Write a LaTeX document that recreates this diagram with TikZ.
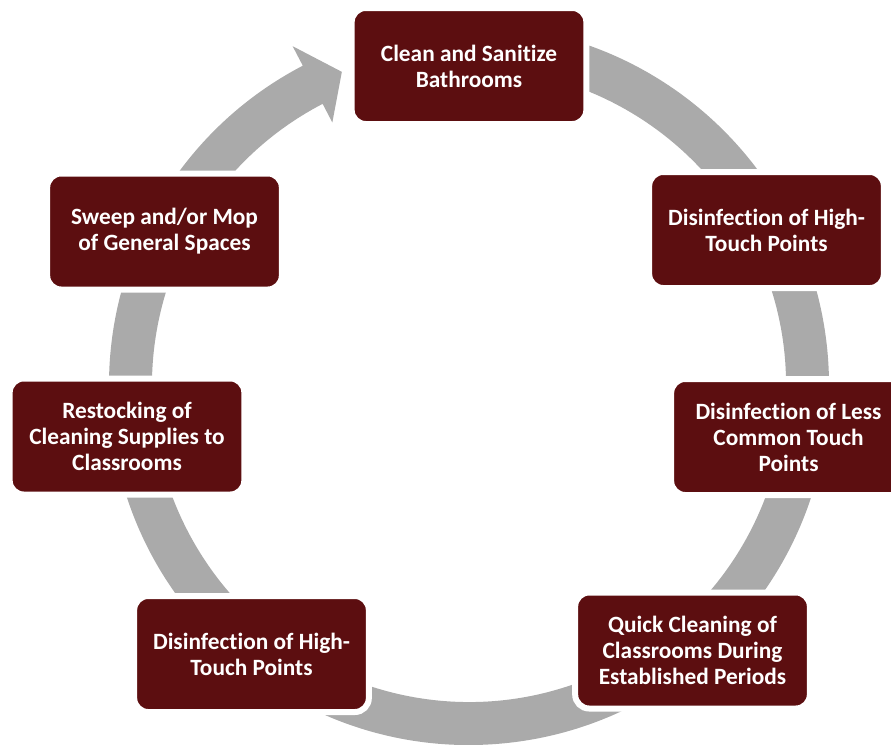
\documentclass[tikz,border=0pt]{standalone}
\usepackage{fontspec}
\setmainfont{Carlito}[Ligatures=CommonOff]
\usepackage{tikz}
\usetikzlibrary{calc}
\definecolor{maroon}{HTML}{5C0E10}
\definecolor{ringgray}{HTML}{AAAAAA}

\begin{document}
\begin{tikzpicture}[x=0.75pt, y=-0.75pt]
	\tikzstyle{task}=[rounded corners=10.5pt, fill=maroon, draw=white, line width=4.5pt, minimum width=176pt, minimum height=87pt, inner sep=0pt, text=white, align=center, font=\fontsize{17.5}{19.5}\selectfont\bfseries]
	\tikzstyle{ring}=[fill=ringgray]
	
	\useasboundingbox (0,0) rectangle (891,744);
	\coordinate (ctr) at (469,385);
	
	% Draw the cycle arrow
	\fill[ring] ($(ctr)+(-95:360)$) arc[start angle=-95, end angle=242.5, radius=360]
		-- ($(ctr)+(242.5:382)$) -- ($(ctr)+(247.9:338)$) -- ($(ctr)+(242.5:296)$)
		-- ($(ctr)+(242.5:317)$) arc[start angle=242.5, end angle=-95, radius=317] -- cycle;
	
	% Draw the steps
	\node[task] (bathrooms) at (469,66) {Clean and Sanitize\\Bathrooms};
	\node[task] (hightouch_a) at (766.5,230) {Disinfection of High-\\Touch Points};
	\node[task] (lesscommon) at (788.5,437) {Disinfection of Less\\Common Touch\\Points};
	\node[task] (quickclean) at (692.5,650.5) {Quick Cleaning of\\Classrooms During\\Established Periods};
	\node[task] (hightouch_b) at (251.5,654) {Disinfection of High-\\Touch Points};
	\node[task] (restock) at (127,436.5) {Restocking of\\Cleaning Supplies to\\Classrooms};
	\node[task] (sweep) at (164.5,231.5) {Sweep and/or Mop\\of General Spaces};
\end{tikzpicture}
\end{document}
